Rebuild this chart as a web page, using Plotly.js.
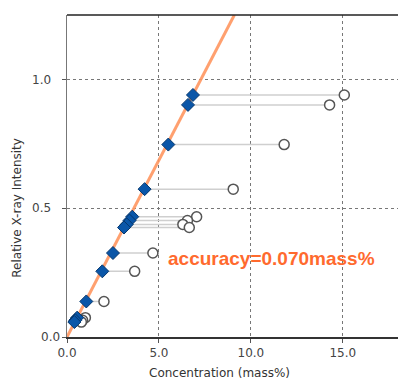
<!DOCTYPE html>
<html>
<head>
<meta charset="utf-8">
<script src="https://cdn.plot.ly/plotly-3.0.1.min.js"></script>
<style>html,body{margin:0;padding:0;background:#fff;}#chart{width:398px;height:380px;}</style>
</head>
<body>
<div id="chart"></div>
<script>
// Relative X-ray intensity of each standard (shared by both point sets)
const intensity = [0.9395, 0.901, 0.747, 0.574, 0.467, 0.452, 0.437, 0.425, 0.326, 0.255, 0.138, 0.075, 0.065, 0.058];
// Corrected concentrations (blue diamonds, on the calibration line)
const correctedConc = [6.85, 6.58, 5.51, 4.22, 3.55, 3.40, 3.25, 3.10, 2.50, 1.92, 1.05, 0.55, 0.45, 0.40];
// Uncorrected concentrations (open circles)
const rawConc = [15.08, 14.28, 11.81, 9.04, 7.05, 6.55, 6.30, 6.65, 4.67, 3.68, 2.01, 1.00, 0.85, 0.78];
// Calibration line end points
const calibX = [0, 9.1];
const calibY = [0, 1.25];
// Ticks
const xTickVals = [0, 5, 10, 15];
const xTickText = ["0.0", "5.0", "10.0", "15.0"];
const yTickVals = [0, 0.5, 1.0];
const yTickText = ["0.0", "0.5", "1.0"];
const accuracyLabel = "accuracy=0.070mass%";

// connector segments
const segX = [], segY = [];
intensity.forEach((y, i) => {
  segX.push(correctedConc[i], rawConc[i], null);
  segY.push(y, y, null);
});

const font = "'DejaVu Sans', sans-serif";
const bold = "'Liberation Sans', Arial, sans-serif";

// the y=0 label sits close to the axis in the original; draw it separately
const yTickShown = yTickText.map((t, i) => yTickVals[i] === 0 ? '' : t);

const traces = [
  {x: segX, y: segY, mode: 'lines', line: {color: '#cfcfcf', width: 1.5}, hoverinfo: 'skip', showlegend: false},
  {x: calibX, y: calibY, mode: 'lines', line: {color: 'rgba(255,150,95,0.9)', width: 3}, showlegend: false},
  {x: rawConc, y: intensity, mode: 'markers', marker: {symbol: 'circle', size: 10, color: '#ffffff', line: {color: '#555555', width: 1.5}}, showlegend: false},
  {x: correctedConc, y: intensity, mode: 'markers', marker: {symbol: 'diamond', size: 10, color: '#0a56a8', line: {color: '#06386e', width: 1}}, showlegend: false}
];

const layout = {
  width: 398, height: 380,
  margin: {l: 67, r: 0, t: 15, b: 43},
  paper_bgcolor: '#ffffff', plot_bgcolor: '#ffffff',
  font: {family: font, size: 12, color: '#444'},
  showlegend: false,
  xaxis: {
    range: [0, 18], tickvals: xTickVals, ticktext: xTickText,
    showgrid: true, gridcolor: '#777', griddash: 'dot', gridwidth: 1,
    zeroline: false, showline: true, linecolor: '#333', linewidth: 1.5,
    ticks: 'outside', ticklen: 4, tickcolor: '#555',
    tickfont: {family: font, size: 12, color: '#444'},
    fixedrange: true
  },
  yaxis: {
    range: [0, 1.25], tickvals: yTickVals, ticktext: yTickShown,
    showgrid: true, gridcolor: '#777', griddash: 'dot', gridwidth: 1,
    zeroline: false, showline: true, linecolor: '#777', linewidth: 1.5,
    ticks: 'outside', ticklen: 4, tickcolor: '#555', ticklabelstandoff: 8,
    tickfont: {family: font, size: 12, color: '#444'},
    fixedrange: true
  },
  shapes: [
    {type: 'line', xref: 'paper', yref: 'paper', x0: 0, x1: 1, y0: 1, y1: 1, line: {color: '#222', width: 1.5}}
  ],
  annotations: [
    {xref: 'paper', yref: 'y', x: -0.015, y: yTickVals[0], xanchor: 'right', yanchor: 'middle', showarrow: false,
     text: yTickText[0], font: {family: font, size: 12, color: '#444'}},
    {xref: 'paper', yref: 'paper', x: 0.46, y: -0.112, yanchor: 'middle', xanchor: 'center', showarrow: false,
     text: 'Concentration (mass%)', font: {family: font, size: 12, color: '#333'}},
    {xref: 'paper', yref: 'paper', x: -0.1495, y: 0.40, xanchor: 'center', yanchor: 'middle', showarrow: false, textangle: -90,
     text: 'Relative X-ray Intensity', font: {family: font, size: 12, color: '#333'}},
    {xref: 'paper', yref: 'paper', x: 0.3, y: 0.244, xanchor: 'left', yanchor: 'middle', showarrow: false,
     text: '<b>' + accuracyLabel + '</b>', font: {family: bold, size: 19, color: '#ff6a2e'}}
  ]
};

Plotly.newPlot('chart', traces, layout, {displayModeBar: false, staticPlot: true});
</script>
</body>
</html>
